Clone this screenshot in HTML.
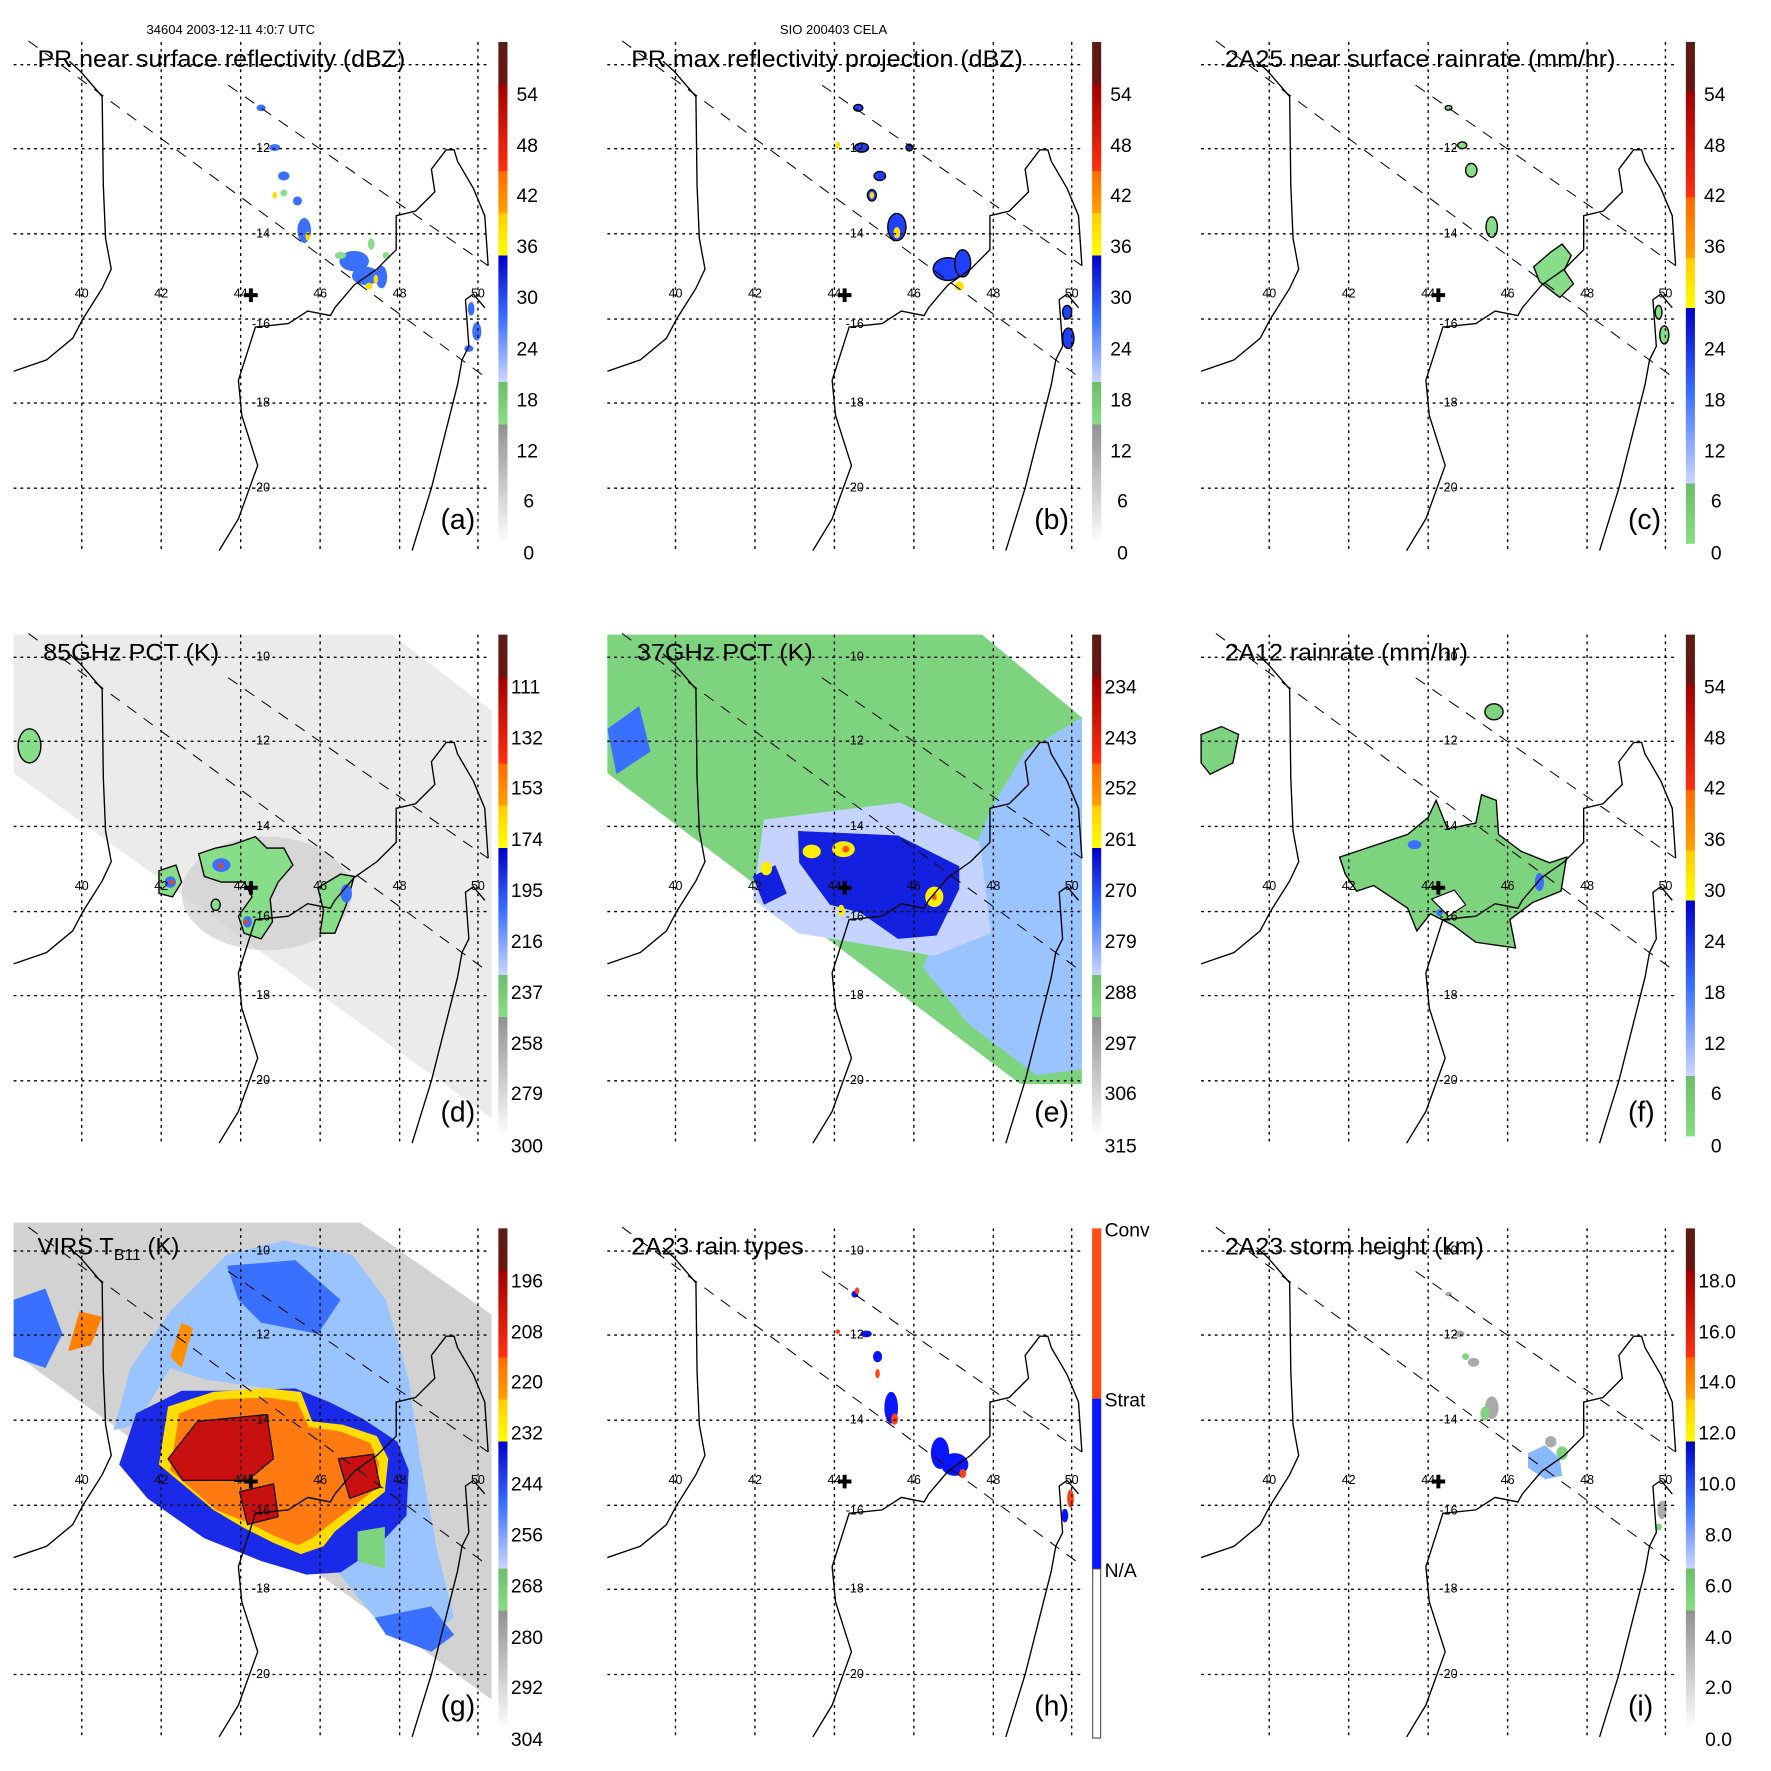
<!DOCTYPE html>
<html><head><meta charset="utf-8"><style>
html,body{margin:0;padding:0;background:#fff}
svg{display:block}
text{font-family:"Liberation Sans",sans-serif;fill:#000}
.t{font-size:21px}.l{font-size:11px}.c{font-size:17px}.p{font-size:25px}
</style></head><body>
<svg width="1771" height="1771" viewBox="0 0 1560 1560" xmlns="http://www.w3.org/2000/svg">
<defs>
<linearGradient id="gA" x1="0" y1="0" x2="0" y2="1">
<stop offset="0" stop-color="#5a1c16"/><stop offset="0.084" stop-color="#6a1410"/>
<stop offset="0.084" stop-color="#a00000"/><stop offset="0.257" stop-color="#ff3010"/>
<stop offset="0.257" stop-color="#ff6a00"/><stop offset="0.341" stop-color="#ffa000"/>
<stop offset="0.341" stop-color="#ffcc00"/><stop offset="0.425" stop-color="#ffff00"/>
<stop offset="0.425" stop-color="#0000c8"/><stop offset="0.55" stop-color="#3a70ff"/><stop offset="0.678" stop-color="#ccd6ff"/>
<stop offset="0.678" stop-color="#6cbd6c"/><stop offset="0.762" stop-color="#88dd88"/>
<stop offset="0.762" stop-color="#909090"/><stop offset="1" stop-color="#ffffff"/>
</linearGradient>
<linearGradient id="gC" x1="0" y1="0" x2="0" y2="1">
<stop offset="0" stop-color="#5a1c16"/><stop offset="0.1" stop-color="#6a1410"/>
<stop offset="0.1" stop-color="#a00000"/><stop offset="0.31" stop-color="#ff3010"/>
<stop offset="0.31" stop-color="#ff6a00"/><stop offset="0.43" stop-color="#ffa000"/>
<stop offset="0.43" stop-color="#ffcc00"/><stop offset="0.53" stop-color="#ffff00"/>
<stop offset="0.53" stop-color="#0000c8"/><stop offset="0.7" stop-color="#3a70ff"/><stop offset="0.88" stop-color="#ccd6ff"/>
<stop offset="0.88" stop-color="#6cbd6c"/><stop offset="1" stop-color="#88dd88"/>
</linearGradient>
<g id="m" fill="none" stroke="#000">
<g stroke-dasharray="2.5,3.5" stroke-width="1.2">
<path d="M72,37V485M142,37V485M212,37V485M282,37V485M352,37V485M421,37V485"/>
<path d="M12,57H430M12,131H430M12,206H430M12,281H430M12,355H430M12,430H430"/>
</g>
<path d="M25,36L430,334M201,75L430,234" stroke-dasharray="10,8" stroke-width="0.9"/>
<path stroke-width="1.2" d="M12,327L41,317L64,298L73,281L90,254L98,237L93,210L91,163L90,85L71,63L61,54"/>
<path stroke-width="1.2" d="M193,485L210,457L227,410L213,366L210,335L225,288L254,285L271,274L291,278L295,271L312,251L332,237L349,220L349,190L366,186L383,169L380,149L393,132L400,132L403,142L417,166L427,190L430,234"/>
<path stroke-width="1.2" d="M363,485L380,430L403,339L407,317L413,305L410,264L417,259L427,271"/>
<path d="M215,260h12M221,254v12" stroke-width="3.5"/>
</g>
<g id="lab">
<text class="l" x="72" y="262" text-anchor="middle">40</text><text class="l" x="142" y="262" text-anchor="middle">42</text><text class="l" x="212" y="262" text-anchor="middle">44</text><text class="l" x="282" y="262" text-anchor="middle">46</text><text class="l" x="352" y="262" text-anchor="middle">48</text><text class="l" x="421" y="262" text-anchor="middle">50</text>
<text class="l" x="222" y="134">-12</text><text class="l" x="222" y="209">-14</text><text class="l" x="222" y="289">-16</text><text class="l" x="222" y="358">-18</text><text class="l" x="222" y="433">-20</text>
</g>
</defs>

<text x="129" y="30" font-size="11.5">34604 2003-12-11 4:0:7 UTC</text>
<text x="687" y="30" font-size="11.5">SIO 200403 CELA</text>

<!-- ROW 1 -->
<g>
<g fill="#3a70ff">
<ellipse cx="230" cy="95" rx="4" ry="3"/><ellipse cx="242" cy="130" rx="5" ry="3"/><ellipse cx="250" cy="155" rx="5" ry="4"/><ellipse cx="262" cy="177" rx="4" ry="4"/><ellipse cx="268" cy="203" rx="6" ry="11"/><ellipse cx="312" cy="230" rx="13" ry="9"/><ellipse cx="322" cy="243" rx="12" ry="8"/><ellipse cx="336" cy="244" rx="5" ry="10"/><ellipse cx="415" cy="272" rx="3" ry="6"/><ellipse cx="420" cy="292" rx="4" ry="8"/><ellipse cx="413" cy="307" rx="4" ry="3"/>
</g>
<g fill="#88dd88"><ellipse cx="300" cy="225" rx="5" ry="3"/><ellipse cx="250" cy="170" rx="3" ry="3"/><ellipse cx="327" cy="215" rx="3" ry="5"/><ellipse cx="340" cy="225" rx="3" ry="3"/></g>
<g fill="#ffdd00"><ellipse cx="242" cy="172" rx="2" ry="3"/><ellipse cx="271" cy="208" rx="2" ry="4"/><ellipse cx="325" cy="252" rx="3" ry="3"/><ellipse cx="331" cy="246" rx="2" ry="4"/></g>
<use href="#m"/><use href="#lab"/>
<text class="t" x="33" y="59" textLength="324" lengthAdjust="spacingAndGlyphs">PR near surface reflectivity (dBZ)</text>
<text class="p" x="388" y="466">(a)</text>
<rect x="439" y="37" width="8" height="442" fill="url(#gA)"/>
<text class="c" x="455" y="89">54</text><text class="c" x="455" y="134">48</text><text class="c" x="455" y="178">42</text><text class="c" x="455" y="223">36</text><text class="c" x="455" y="268">30</text><text class="c" x="455" y="313">24</text><text class="c" x="455" y="358">18</text><text class="c" x="455" y="403">12</text><text class="c" x="461" y="447">6</text><text class="c" x="461" y="493">0</text>
</g>

<g transform="translate(523,0)">
<g fill="#2040ff" stroke="#000" stroke-width="1.2">
<ellipse cx="233" cy="95" rx="4" ry="3"/><ellipse cx="236" cy="130" rx="6" ry="4"/><ellipse cx="252" cy="155" rx="5" ry="4"/><ellipse cx="245" cy="172" rx="4" ry="5"/><ellipse cx="267" cy="200" rx="8" ry="12"/><ellipse cx="312" cy="237" rx="13" ry="10"/><ellipse cx="325" cy="232" rx="7" ry="12"/><ellipse cx="417" cy="275" rx="4" ry="6"/><ellipse cx="418" cy="298" rx="5" ry="9"/><ellipse cx="278" cy="130" rx="3" ry="3"/>
</g>
<g fill="#ffdd00"><ellipse cx="245" cy="172" rx="2" ry="3"/><ellipse cx="267" cy="205" rx="3" ry="5"/><ellipse cx="322" cy="252" rx="4" ry="4"/><ellipse cx="215" cy="128" rx="2" ry="3"/></g>
<use href="#m"/><use href="#lab"/>
<text class="t" x="33" y="59" textLength="345" lengthAdjust="spacingAndGlyphs">PR max reflectivity projection (dBZ)</text>
<text class="p" x="388" y="466">(b)</text>
<rect x="439" y="37" width="8" height="442" fill="url(#gA)"/>
<text class="c" x="455" y="89">54</text><text class="c" x="455" y="134">48</text><text class="c" x="455" y="178">42</text><text class="c" x="455" y="223">36</text><text class="c" x="455" y="268">30</text><text class="c" x="455" y="313">24</text><text class="c" x="455" y="358">18</text><text class="c" x="455" y="403">12</text><text class="c" x="461" y="447">6</text><text class="c" x="461" y="493">0</text>
</g>

<g transform="translate(1046,0)">
<g fill="#88dd88" stroke="#000" stroke-width="1.2">
<ellipse cx="230" cy="95" rx="3" ry="2"/><ellipse cx="250" cy="150" rx="5" ry="6"/><ellipse cx="268" cy="200" rx="5" ry="9"/><ellipse cx="242" cy="128" rx="4" ry="3"/>
<path d="M305,235L320,222L330,215L338,225L332,238L340,250L328,262L310,248Z"/>
<ellipse cx="415" cy="275" rx="3" ry="6"/><ellipse cx="420" cy="295" rx="4" ry="8"/>
</g>
<use href="#m"/><use href="#lab"/>
<text class="t" x="33" y="59" textLength="344" lengthAdjust="spacingAndGlyphs">2A25 near surface rainrate (mm/hr)</text>
<text class="p" x="388" y="466">(c)</text>
<rect x="439" y="37" width="8" height="442" fill="url(#gC)"/>
<text class="c" x="455" y="89">54</text><text class="c" x="455" y="134">48</text><text class="c" x="455" y="178">42</text><text class="c" x="455" y="223">36</text><text class="c" x="455" y="268">30</text><text class="c" x="455" y="313">24</text><text class="c" x="455" y="358">18</text><text class="c" x="455" y="403">12</text><text class="c" x="461" y="447">6</text><text class="c" x="461" y="493">0</text>
</g>

<!-- ROW 2 -->
<g transform="translate(0,522)">
<polygon points="12,37 345,37 433,104 433,463 12,159" fill="#ebebeb"/>
<ellipse cx="235" cy="265" rx="75" ry="50" fill="#cfcfcf" opacity="0.7"/>
<g fill="#88dd88" stroke="#000" stroke-width="1.2">
<path d="M175,230L190,225L205,222L225,215L235,225L250,225L258,240L245,255L238,270L240,290L230,305L215,300L210,285L222,268L215,255L195,255L180,250Z"/>
<path d="M140,245L155,240L160,255L152,268L140,265Z"/>
<path d="M280,260L300,248L312,250L305,275L295,300L282,300L285,280Z"/>
<ellipse cx="26" cy="135" rx="10" ry="15"/><ellipse cx="190" cy="275" rx="4" ry="5"/>
</g>
<g fill="#3a70ff"><ellipse cx="195" cy="240" rx="8" ry="6"/><ellipse cx="150" cy="255" rx="5" ry="5"/><ellipse cx="305" cy="265" rx="5" ry="8"/><ellipse cx="218" cy="290" rx="4" ry="5"/></g>
<g fill="#ff4000"><rect x="193" y="238" width="3" height="5"/><rect x="150" y="253" width="3" height="4"/><rect x="215" y="288" width="3" height="4"/></g>
<use href="#m"/><use href="#lab"/><text class="l" x="222" y="60">-10</text>
<text class="t" x="38" y="60" textLength="155" lengthAdjust="spacingAndGlyphs">85GHz PCT (K)</text>
<text class="p" x="388" y="466">(d)</text>
<rect x="439" y="37" width="8" height="442" fill="url(#gA)"/>
<text class="c" x="450" y="89">111</text><text class="c" x="450" y="134">132</text><text class="c" x="450" y="178">153</text><text class="c" x="450" y="223">174</text><text class="c" x="450" y="268">195</text><text class="c" x="450" y="313">216</text><text class="c" x="450" y="358">237</text><text class="c" x="450" y="403">258</text><text class="c" x="450" y="447">279</text><text class="c" x="450" y="493">300</text>
</g>

<g transform="translate(523,522)">
<polygon points="12,37 342,37 430,110 430,433 376,433 12,159" fill="#7ed47e"/>
<path d="M380,140L430,110L430,420L390,425L330,380L290,330L330,240L350,190Z" fill="#99c4ff"/>
<path d="M150,200L270,185L340,220L350,300L300,320L240,310L180,300L140,270Z" fill="#c4d4ff"/>
<path d="M12,120L40,100L50,140L20,160Z" fill="#3a70ff"/>
<path d="M180,210L268,214L322,241L322,261L302,302L268,305L235,282L208,275L181,238Z" fill="#1420e0"/>
<path d="M140,250L160,240L170,265L150,275Z" fill="#1420e0"/>
<g fill="#ffee00"><ellipse cx="192" cy="228" rx="8" ry="6"/><ellipse cx="220" cy="226" rx="10" ry="7"/><ellipse cx="300" cy="268" rx="8" ry="9"/><ellipse cx="152" cy="243" rx="5" ry="6"/><ellipse cx="218" cy="280" rx="3" ry="5"/></g>
<g fill="#ff5000"><ellipse cx="222" cy="226" rx="3" ry="3"/><ellipse cx="300" cy="268" rx="2" ry="3"/></g>
<use href="#m"/><use href="#lab"/><text class="l" x="222" y="60">-10</text>
<text class="t" x="38" y="60" textLength="155" lengthAdjust="spacingAndGlyphs">37GHz PCT (K)</text>
<text class="p" x="388" y="466">(e)</text>
<rect x="439" y="37" width="8" height="442" fill="url(#gA)"/>
<text class="c" x="450" y="89">234</text><text class="c" x="450" y="134">243</text><text class="c" x="450" y="178">252</text><text class="c" x="450" y="223">261</text><text class="c" x="450" y="268">270</text><text class="c" x="450" y="313">279</text><text class="c" x="450" y="358">288</text><text class="c" x="450" y="403">297</text><text class="c" x="450" y="447">306</text><text class="c" x="450" y="493">315</text>
</g>

<g transform="translate(1046,522)">
<g fill="#7ed47e" stroke="#000" stroke-width="1.2">
<path d="M134,233L164,223L194,213L212,198L219,183L229,208L254,203L259,178L272,183L274,213L294,228L319,238L334,233L329,263L304,273L284,288L289,313L254,308L234,293L214,283L202,298L194,278L179,268L164,258L149,263L139,248Z"/>
<path d="M12,125L30,118L45,125L40,150L20,160L12,150Z"/>
<ellipse cx="270" cy="105" rx="8" ry="7"/>
</g>
<path d="M215,270L235,262L245,275L230,285Z" fill="#fff" stroke="#000"/>
<g fill="#3a70ff"><ellipse cx="200" cy="222" rx="6" ry="4"/><ellipse cx="310" cy="255" rx="4" ry="8"/><ellipse cx="222" cy="282" rx="3" ry="3"/></g>
<use href="#m"/><use href="#lab"/><text class="l" x="222" y="60">-10</text>
<text class="t" x="33" y="60" textLength="214" lengthAdjust="spacingAndGlyphs">2A12 rainrate (mm/hr)</text>
<text class="p" x="388" y="466">(f)</text>
<rect x="439" y="37" width="8" height="442" fill="url(#gC)"/>
<text class="c" x="455" y="89">54</text><text class="c" x="455" y="134">48</text><text class="c" x="455" y="178">42</text><text class="c" x="455" y="223">36</text><text class="c" x="455" y="268">30</text><text class="c" x="455" y="313">24</text><text class="c" x="455" y="358">18</text><text class="c" x="455" y="403">12</text><text class="c" x="461" y="447">6</text><text class="c" x="461" y="493">0</text>
</g>

<!-- ROW 3 -->
<g transform="translate(0,1045)">
<polygon points="12,32 317,32 433,113 433,452 12,147" fill="#d2d2d2"/>
<path d="M200,60L250,48L310,60L340,100L360,170L370,240L385,320L400,380L370,400L330,380L290,330L300,280L330,230L300,200L250,180L180,170L150,160L120,210L100,215L115,160L150,110Z" fill="#99c4ff"/>
<path d="M200,70L260,65L300,100L280,130L230,120L210,100Z" fill="#3a70ff"/>
<path d="M12,100L40,90L55,130L40,160L12,150Z" fill="#3a70ff"/>
<path d="M330,380L380,370L400,395L380,410L340,395Z" fill="#3a70ff"/>
<path d="M105,245L120,200L140,190L160,180L200,180L260,178L290,190L320,205L350,225L360,250L358,290L330,320L300,340L270,342L230,330L180,310L130,275Z" fill="#1a2ae8"/>
<path d="M140,245L148,194L188,181L235,178L265,181L275,207L302,210L332,220L342,240L339,269L315,288L295,304L285,317L265,324L241,314L215,301L188,285Z" fill="#ffdd00"/>
<path d="M150,250L158,200L190,188L235,186L262,190L272,212L300,216L326,226L334,244L331,266L310,283L290,298L275,310L262,316L242,308L218,296L190,285Z" fill="#ff7a10"/>
<g fill="#c81010" stroke="#000" stroke-width="1">
<path d="M148,240L174,207L235,201L241,240L218,259L161,259Z"/>
<path d="M211,269L241,262L245,291L218,298Z"/>
<path d="M298,240L329,236L335,265L308,275Z"/>
</g>
<path d="M60,145L70,110L90,115L80,140Z" fill="#ff8000"/>
<path d="M150,150L160,120L170,125L160,160Z" fill="#ff9000"/>
<path d="M315,304L339,300L339,337L315,330Z" fill="#7ed47e"/>
<use href="#m"/><use href="#lab"/><text class="l" x="222" y="60">-10</text>
<text class="t" x="33" y="60">VIRS T<tspan font-size="14" dy="5">B11</tspan><tspan dy="-5"> (K)</tspan></text>
<text class="p" x="388" y="466">(g)</text>
<rect x="439" y="37" width="8" height="442" fill="url(#gA)"/>
<text class="c" x="450" y="89">196</text><text class="c" x="450" y="134">208</text><text class="c" x="450" y="178">220</text><text class="c" x="450" y="223">232</text><text class="c" x="450" y="268">244</text><text class="c" x="450" y="313">256</text><text class="c" x="450" y="358">268</text><text class="c" x="450" y="403">280</text><text class="c" x="450" y="447">292</text><text class="c" x="450" y="493">304</text>
</g>

<g transform="translate(523,1045)">
<g fill="#0a14ff">
<ellipse cx="230" cy="95" rx="3" ry="3"/><ellipse cx="240" cy="130" rx="5" ry="3"/><ellipse cx="250" cy="150" rx="4" ry="5"/><ellipse cx="262" cy="195" rx="6" ry="14"/><ellipse cx="305" cy="235" rx="8" ry="14"/><ellipse cx="318" cy="245" rx="12" ry="10"/><ellipse cx="415" cy="290" rx="3" ry="6"/>
</g>
<g fill="#ff4010"><ellipse cx="232" cy="92" rx="2" ry="3"/><ellipse cx="250" cy="165" rx="2" ry="4"/><ellipse cx="265" cy="205" rx="3" ry="5"/><ellipse cx="325" cy="253" rx="3" ry="4"/><ellipse cx="420" cy="275" rx="3" ry="8"/><ellipse cx="215" cy="128" rx="2" ry="2"/></g>
<use href="#m"/><use href="#lab"/><text class="l" x="222" y="60">-10</text>
<text class="t" x="33" y="60" textLength="152" lengthAdjust="spacingAndGlyphs">2A23 rain types</text>
<text class="p" x="388" y="466">(h)</text>
<rect x="439" y="37" width="8" height="150" fill="#ff4a10"/>
<rect x="439" y="187" width="8" height="150" fill="#0a14ff"/>
<rect x="439.5" y="337" width="7" height="149" fill="#fff" stroke="#555"/>
<text class="c" x="450" y="44">Conv</text><text class="c" x="450" y="194">Strat</text><text class="c" x="450" y="344">N/A</text>
</g>

<g transform="translate(1046,1045)">
<g fill="#aaaaaa"><ellipse cx="230" cy="95" rx="3" ry="2"/><ellipse cx="240" cy="130" rx="4" ry="3"/><ellipse cx="252" cy="155" rx="5" ry="4"/><ellipse cx="268" cy="195" rx="6" ry="10"/><ellipse cx="320" cy="225" rx="5" ry="5"/><ellipse cx="418" cy="285" rx="4" ry="8"/></g>
<g fill="#7ed47e"><ellipse cx="245" cy="150" rx="3" ry="3"/><ellipse cx="262" cy="200" rx="4" ry="6"/><ellipse cx="330" cy="235" rx="5" ry="6"/><ellipse cx="415" cy="300" rx="3" ry="3"/></g>
<path d="M300,235L315,228L328,240L330,255L315,258L300,248Z" fill="#88b8ff"/>
<use href="#m"/><use href="#lab"/><text class="l" x="222" y="60">-10</text>
<text class="t" x="33" y="60" textLength="228" lengthAdjust="spacingAndGlyphs">2A23 storm height (km)</text>
<text class="p" x="388" y="466">(i)</text>
<rect x="439" y="37" width="8" height="442" fill="url(#gA)"/>
<text class="c" x="450" y="89">18.0</text><text class="c" x="450" y="134">16.0</text><text class="c" x="450" y="178">14.0</text><text class="c" x="450" y="223">12.0</text><text class="c" x="450" y="268">10.0</text><text class="c" x="456" y="313">8.0</text><text class="c" x="456" y="358">6.0</text><text class="c" x="456" y="403">4.0</text><text class="c" x="456" y="447">2.0</text><text class="c" x="456" y="493">0.0</text>
</g>
</svg>
</body></html>
